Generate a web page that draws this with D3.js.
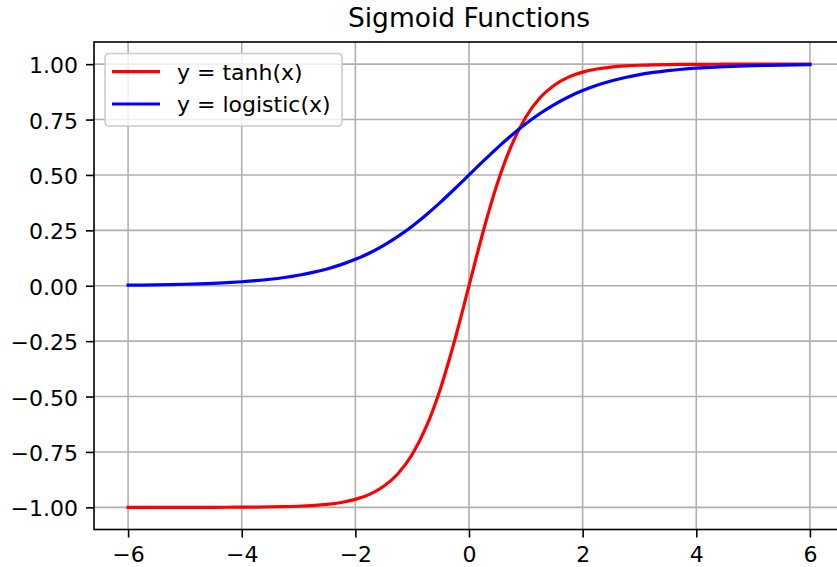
<!DOCTYPE html>
<html>
<head>
<meta charset="utf-8">
<script src="https://cdn.jsdelivr.net/npm/d3@7"></script>
<style>
  body { margin: 0; background: #fff; }
  svg { display: block; font-family: "DejaVu Sans", sans-serif; }
</style>
</head>
<body>
<div id="chart"></div>
<script>
// values, x from -6 to 6 in steps of 0.25
const xValues = [
  -6, -5.75, -5.5, -5.25, -5, -4.75, -4.5, -4.25, -4, -3.75, -3.5, -3.25,
  -3, -2.75, -2.5, -2.25, -2, -1.75, -1.5, -1.25, -1, -0.75, -0.5, -0.25,
  0, 0.25, 0.5, 0.75, 1, 1.25, 1.5, 1.75, 2, 2.25, 2.5, 2.75,
  3, 3.25, 3.5, 3.75, 4, 4.25, 4.5, 4.75, 5, 5.25, 5.5, 5.75, 6
];
const tanhValues = [
  -1.0000, -1.0000, -1.0000, -1.0000, -0.9999, -0.9999, -0.9998, -0.9996, -0.9993, -0.9989, -0.9982, -0.9970,
  -0.9951, -0.9919, -0.9866, -0.9780, -0.9640, -0.9414, -0.9051, -0.8483, -0.7616, -0.6351, -0.4621, -0.2449,
  0.0000, 0.2449, 0.4621, 0.6351, 0.7616, 0.8483, 0.9051, 0.9414, 0.9640, 0.9780, 0.9866, 0.9919,
  0.9951, 0.9970, 0.9982, 0.9989, 0.9993, 0.9996, 0.9998, 0.9999, 0.9999, 1.0000, 1.0000, 1.0000, 1.0000
];
const logisticValues = [
  0.0025, 0.0032, 0.0041, 0.0052, 0.0067, 0.0086, 0.0110, 0.0141, 0.0180, 0.0230, 0.0293, 0.0373,
  0.0474, 0.0601, 0.0759, 0.0953, 0.1192, 0.1480, 0.1824, 0.2227, 0.2689, 0.3208, 0.3775, 0.4378,
  0.5000, 0.5622, 0.6225, 0.6792, 0.7311, 0.7773, 0.8176, 0.8520, 0.8808, 0.9047, 0.9241, 0.9399,
  0.9526, 0.9627, 0.9707, 0.9770, 0.9820, 0.9859, 0.9890, 0.9914, 0.9933, 0.9948, 0.9959, 0.9968, 0.9975
];
const xTicks = [-6, -4, -2, 0, 2, 4, 6];
const yTicks = [-1, -0.75, -0.5, -0.25, 0, 0.25, 0.5, 0.75, 1];
const seriesNames = ["y = tanh(x)", "y = logistic(x)"];
const seriesColors = ["#ff0000", "#0000ff"];
const title = "Sigmoid Functions";

const width = 837, height = 567;
const plotLeft = 94, plotRight = 844, plotTop = 42, plotBottom = 529.5;

const svg = d3.select("#chart").append("svg")
  .attr("width", width)
  .attr("height", height);

const x = d3.scaleLinear().domain([-6.6, 6.6]).range([plotLeft, plotRight]);
const y = d3.scaleLinear().domain([-1.1, 1.1]).range([plotBottom, plotTop]);

// grid
const grid = svg.append("g").attr("stroke", "#b0b0b0").attr("stroke-width", 1.6);
grid.selectAll(".gx").data(xTicks).enter().append("line")
  .attr("x1", d => x(d)).attr("x2", d => x(d))
  .attr("y1", plotTop).attr("y2", plotBottom);
grid.selectAll(".gy").data(yTicks).enter().append("line")
  .attr("x1", plotLeft).attr("x2", plotRight)
  .attr("y1", d => y(d)).attr("y2", d => y(d));

// curves
const series = [tanhValues, logisticValues];
const line = d3.line()
  .x((d, i) => x(xValues[i]))
  .y(d => y(d))
  .curve(d3.curveMonotoneX);

svg.append("g").selectAll("path").data(series).enter().append("path")
  .attr("d", d => line(d))
  .attr("fill", "none")
  .attr("stroke", (d, i) => seriesColors[i])
  .attr("stroke-width", 3.2)
  .attr("stroke-linecap", "square");

// axes
const xAxis = svg.append("g")
  .attr("transform", `translate(0,${plotBottom})`)
  .call(d3.axisBottom(x).tickValues(xTicks).tickSize(8).tickPadding(8).tickFormat(d3.format("d")));
const yAxis = svg.append("g")
  .attr("transform", `translate(${plotLeft},0)`)
  .call(d3.axisLeft(y).tickValues(yTicks).tickSize(8).tickPadding(8).tickFormat(d3.format(".2f")));

[xAxis, yAxis].forEach(a => {
  a.select(".domain").remove();
  a.selectAll(".tick line").attr("stroke", "#000").attr("stroke-width", 1.6);
  a.selectAll(".tick text")
    .attr("fill", "#000")
    .style("font-family", "DejaVu Sans")
    .style("font-size", "22px");
});
xAxis.selectAll(".tick text").attr("dy", null).attr("y", 32.5);
yAxis.selectAll(".tick text").attr("dy", null).attr("y", 8.5);

// spines
svg.append("rect")
  .attr("x", plotLeft).attr("y", plotTop)
  .attr("width", plotRight - plotLeft).attr("height", plotBottom - plotTop)
  .attr("fill", "none")
  .attr("stroke", "#000")
  .attr("stroke-width", 1.6);

// title
svg.append("text")
  .attr("x", (plotLeft + plotRight) / 2)
  .attr("y", 27)
  .attr("text-anchor", "middle")
  .style("font-size", "26.5px")
  .text(title);

// legend
const legend = svg.append("g");
legend.append("rect")
  .attr("x", 105).attr("y", 53.5)
  .attr("width", 237).attr("height", 72.5)
  .attr("rx", 4)
  .attr("fill", "#fff").attr("fill-opacity", 0.8)
  .attr("stroke", "#cccccc").attr("stroke-width", 1.6);

const items = legend.selectAll(".item").data(seriesNames).enter().append("g")
  .attr("transform", (d, i) => `translate(0,${71.7 + i * 32.3})`);
items.append("line")
  .attr("x1", 112).attr("x2", 160)
  .attr("stroke", (d, i) => seriesColors[i])
  .attr("stroke-width", 3.2);
items.append("text")
  .attr("x", 177).attr("y", 8)
  .style("font-size", "22px")
  .text(d => d);
</script>
</body>
</html>
